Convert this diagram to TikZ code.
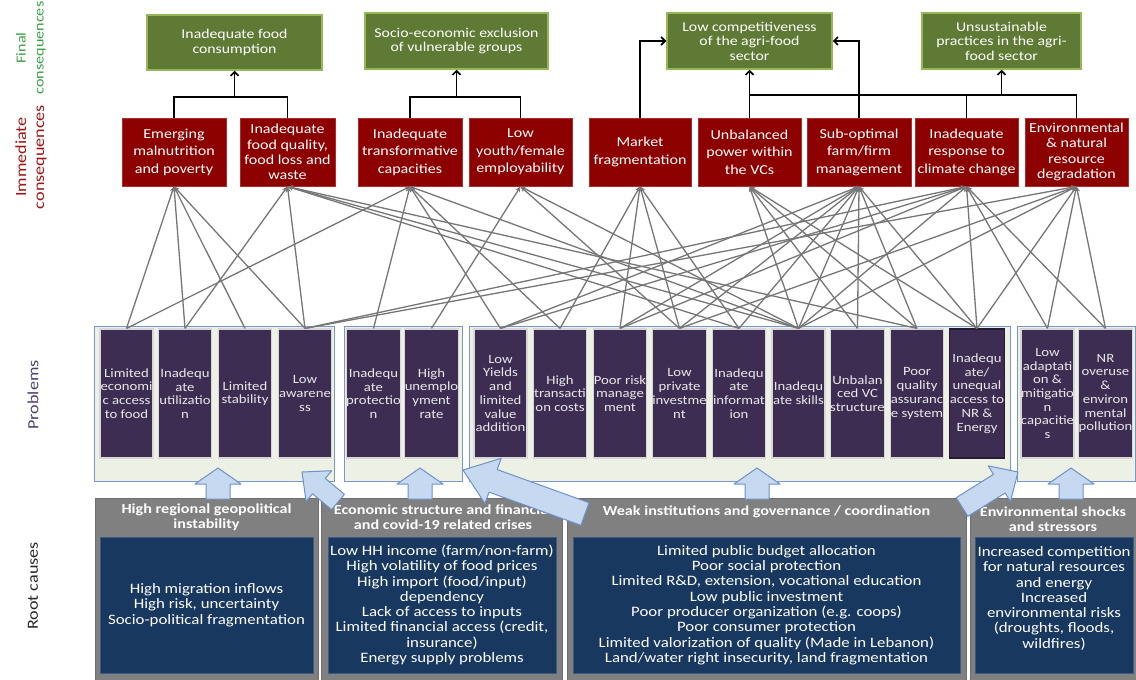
\documentclass[tikz,border=0pt]{standalone}
\usepackage{fontspec}
\setmainfont{Carlito}[FakeStretch=1.17]
\usetikzlibrary{arrows.meta,calc}
\definecolor{gfill}{RGB}{94,122,52}
\definecolor{gbord}{RGB}{150,182,88}
\definecolor{rfill}{RGB}{140,0,0}
\definecolor{rbord}{RGB}{175,45,45}
\definecolor{pfill}{RGB}{62,45,82}
\definecolor{pbord}{RGB}{215,215,215}
\definecolor{ptext}{RGB}{232,232,232}
\definecolor{frfill}{RGB}{236,240,229}
\definecolor{frbord}{RGB}{120,150,200}
\definecolor{rtgray}{RGB}{128,128,128}
\definecolor{rtbord}{RGB}{110,110,110}
\definecolor{navy}{RGB}{24,56,96}
\definecolor{navybord}{RGB}{60,90,130}
\definecolor{afill}{RGB}{198,217,241}
\definecolor{abord}{RGB}{110,145,200}
\definecolor{linkgray}{RGB}{118,118,118}
\definecolor{lgreen}{RGB}{60,160,70}
\definecolor{lred}{RGB}{160,20,20}
\definecolor{lpurp}{RGB}{80,65,110}
\definecolor{lgray}{RGB}{40,40,40}
\newcommand\myfatarrow[5]{%
  \coordinate (fa-t) at #1;
  \coordinate (fa-h) at #2;
  \coordinate (fa-b) at ($(fa-h)!#5!(fa-t)$);
  \draw[fatarr] ($(fa-t)!#3!90:(fa-h)$) -- ($(fa-b)!#3!90:(fa-h)$) -- ($(fa-b)!#4!90:(fa-h)$) -- (fa-h) -- ($(fa-b)!#4!-90:(fa-h)$) -- ($(fa-b)!#3!-90:(fa-h)$) -- ($(fa-t)!#3!-90:(fa-h)$) -- cycle;
}
\begin{document}
\begin{tikzpicture}[x=1pt,y=-1pt,
  sidelab/.style={rotate=90, align=center, inner sep=0pt, font=\fontsize{15.5}{18}\selectfont},
  greenbox/.style={draw=gbord, fill=gfill, line width=1.5pt, text=white, align=center, inner sep=0pt, font=\fontsize{13.5}{14.5}\selectfont},
  redbox/.style={draw=rbord, fill=rfill, line width=1pt, text=white, align=center, inner sep=0pt, minimum height=68pt, font=\fontsize{13.7}{17.5}\selectfont},
  redfour/.style={font=\fontsize{13.7}{15.3}\selectfont},
  probframe/.style={draw=frbord, fill=frfill, line width=1pt, inner sep=0pt},
  probbox/.style={draw=pbord, fill=pfill, line width=1.2pt, text=ptext, align=center, inner sep=0pt, minimum width=53pt, minimum height=129pt, font=\fontsize{12.6}{13.7}\selectfont},
  rootbox/.style={draw=rtbord, fill=rtgray, line width=0.8pt, inner sep=0pt},
  roothead/.style={text=white, align=center, inner sep=0pt, font=\bfseries\fontsize{13.8}{15}\selectfont},
  rootinner/.style={draw=navybord, fill=navy, line width=0.8pt, text=white, align=center, inner sep=0pt, minimum height=136pt, font=\fontsize{14.4}{15.3}\selectfont},
  fatarr/.style={draw=abord, fill=afill, line width=1pt, line join=round},
  link/.style={draw=linkgray, line width=1.3pt, -{Stealth[length=5.5pt,width=5pt]}},
  blk/.style={draw=black, line width=1.6pt},
  blkarr/.style={draw=black, line width=1.6pt, -{Straight Barb[length=4pt,width=8pt]}}
]
\useasboundingbox (0,0) rectangle (1136,680);
\fill[white] (0,0) rectangle (1136,680);

% side labels
\node[sidelab, text=lgreen, font=\fontsize{13.8}{18}\selectfont] (lf) at (31,48) {Final\\consequences};
\node[sidelab, text=lred] (li) at (31,157) {Immediate\\consequences};
\node[sidelab, text=lpurp] (lp) at (33,395) {Problems};
\node[sidelab, text=lgray] (lr) at (33,586) {Root causes};

% final consequences
\node[greenbox, minimum width=175pt, minimum height=55pt] (f1) at (234.5,42.5) {Inadequate food\\consumption};
\node[greenbox, minimum width=183pt, minimum height=56pt] (f2) at (456.5,41) {Socio-economic exclusion\\of vulnerable groups};
\node[greenbox, minimum width=165pt, minimum height=56pt] (f3) at (749.5,41) {Low competitiveness\\of the agri-food\\sector};
\node[greenbox, minimum width=159pt, minimum height=56pt] (f4) at (1001.5,41) {Unsustainable\\practices in the agri-\\food sector};

% problem frames
\node[probframe, minimum width=240pt, minimum height=155pt] (g1) at (214,403.5) {};
\node[probframe, minimum width=118pt, minimum height=155pt] (g2) at (403,403.5) {};
\node[probframe, minimum width=541pt, minimum height=155pt] (g3) at (739.5,403.5) {};
\node[probframe, minimum width=118pt, minimum height=155pt] (g4) at (1076,403.5) {};

% problems
\node[probbox] (p1) at (126.5,393.5) {Limited\\economi\\c access\\to food};
\node[probbox] (p2) at (185,393.5) {Inadequ\\ate\\utilizatio\\n};
\node[probbox] (p3) at (245,393.5) {Limited\\stability};
\node[probbox] (p4) at (305,393.5) {Low\\awarene\\ss};
\node[probbox] (p5) at (373.5,393.5) {Inadequ\\ate\\protectio\\n};
\node[probbox] (p6) at (431.5,393.5) {High\\unemplo\\yment\\rate};
\node[probbox] (p7) at (500.5,393.5) {Low\\Yields\\and\\limited\\value\\addition};
\node[probbox] (p8) at (560,393.5) {High\\transacti\\on costs};
\node[probbox] (p9) at (620,393.5) {Poor risk\\manage\\ment};
\node[probbox] (p10) at (679.5,393.5) {Low\\private\\investme\\nt};
\node[probbox] (p11) at (739,393.5) {Inadequ\\ate\\informat\\ion};
\node[probbox] (p12) at (798.5,393.5) {Inadequ\\ate skills};
\node[probbox] (p13) at (857.5,393.5) {Unbalan\\ced VC\\structure};
\node[probbox] (p14) at (917,393.5) {Poor\\quality\\assuranc\\e system};
\node[probbox, draw=pfill!60!black] (p15) at (977,393.5) {Inadequ\\ate/\\unequal\\access to\\NR \&\\Energy};
\node[probbox] (p16) at (1047.5,393.5) {Low\\adaptati\\on \&\\mitigatio\\n\\capacitie\\s};
\node[probbox] (p17) at (1105.5,393.5) {NR\\overuse\\\&\\environ\\mental\\pollution};

% immediate consequences
\node[redbox, minimum width=104pt] (i1) at (174,152) {Emerging\\malnutrition\\and poverty};
\node[redbox, redfour, minimum width=95pt] (i2) at (287.5,152) {Inadequate\\food quality,\\food loss and\\waste};
\node[redbox, minimum width=104pt] (i3) at (410,152) {Inadequate\\transformative\\capacities};
\node[redbox, minimum width=103pt] (i4) at (520.5,152) {Low\\youth/female\\employability};
\node[redbox, minimum width=102pt] (i5) at (640,152) {Market\\fragmentation};
\node[redbox, minimum width=103pt] (i6) at (749.5,152) {Unbalanced\\power within\\the VCs};
\node[redbox, minimum width=104pt] (i7) at (859,152) {Sub-optimal\\farm/firm\\management};
\node[redbox, minimum width=103pt] (i8) at (966.5,152) {Inadequate\\response to\\climate change};
\node[redbox, redfour, minimum width=103pt] (i9) at (1076.5,152) {Environmental\\\& natural\\resource\\degradation};

% links problems -> immediate consequences
\foreach \i/\p in {1/1,1/2,1/3,1/4,
  2/2,2/4,2/11,2/12,2/14,
  3/1,3/5,3/7,3/8,3/12,
  4/6,4/10,4/12,
  5/8,5/9,5/10,5/11,
  6/12,6/13,6/14,6/15,
  7/7,7/9,7/10,7/11,7/12,7/13,7/14,7/15,
  8/4,8/7,8/9,8/12,8/15,8/16,8/17,
  9/4,9/10,9/12,9/15,9/16,9/17}
  \draw[link] (p\p.north) -- (i\i.south);

% immediate -> final
\coordinate (b1) at (234.5,97);
\coordinate (b2) at (456.5,97);
\coordinate (b3) at (749.5,95);
\coordinate (b4) at (1001.5,95);
\draw[blk] (i1.north) |- (b1) -| (i2.north);
\draw[blkarr] (b1) -- (f1.south);
\draw[blk] (i3.north) |- (b2) -| (i4.north);
\draw[blkarr] (b2) -- (f2.south);
\draw[blkarr] (i5.north) |- (f3.west);
\draw[blkarr] (i7.north) |- (f3.east);
\draw[blk] (i6.north) -- (b3) -- (b4) -| (i9.north);
\draw[blk] (i8.north) -- (i8.north |- b4);
\draw[blkarr] (b3) -- (f3.south);
\draw[blkarr] (b4) -- (f4.south);

% root causes
\node[rootbox, minimum width=223pt, minimum height=182pt] (r1) at (206.5,589) {};
\node[rootbox, minimum width=241pt, minimum height=182pt] (r2) at (441.5,589) {};
\node[rootbox, minimum width=399pt, minimum height=182pt] (r3) at (766.5,589) {};
\node[rootbox, minimum width=166pt, minimum height=182pt] (r4) at (1053,589) {};
\node[roothead] (h1) at (206.5,517.5) {High regional geopolitical\\instability};
\node[roothead] (h2) at (443,517.5) {Economic structure and financial\\and covid-19 related crises};
\node[roothead] (h3) at (766.5,512) {Weak institutions and governance / coordination};
\node[roothead] (h4) at (1053,519) {Environmental shocks\\and stressors};
\node[rootinner, minimum width=213pt] (c1) at (206.5,605) {High migration inflows\\High risk, uncertainty\\Socio-political fragmentation};
\node[rootinner, minimum width=228pt] (c2) at (442,605) {Low HH income (farm/non-farm)\\High volatility of food prices\\High import (food/input)\\dependency\\Lack of access to inputs\\Limited financial access (credit,\\insurance)\\Energy supply problems};
\node[rootinner, minimum width=387pt] (c3) at (766.5,605) {Limited public budget allocation\\Poor social protection\\Limited R\&D, extension, vocational education\\Low public investment\\Poor producer organization (e.g. coops)\\Poor consumer protection\\Limited valorization of quality (Made in Lebanon)\\Land/water right insecurity, land fragmentation};
\node[rootinner, minimum width=158pt] (c4) at (1054,605) {Increased competition\\for natural resources\\and energy\\Increased\\environmental risks\\(droughts, floods,\\wildfires)\\\phantom{x}};

% fat arrows root causes -> problems
\myfatarrow{(218,499)}{(218,468)}{12pt}{23pt}{16pt}
\myfatarrow{(338,502)}{(302,472)}{10pt}{20pt}{22pt}
\myfatarrow{(420,499)}{(420,468)}{12pt}{23pt}{16pt}
\myfatarrow{(585,514)}{(463,470)}{12pt}{24pt}{32pt}
\myfatarrow{(757,499)}{(757,468)}{12pt}{23pt}{16pt}
\myfatarrow{(962,507)}{(1018,472)}{11pt}{21pt}{22pt}
\myfatarrow{(1071,499)}{(1071,468)}{12pt}{23pt}{16pt}
\end{tikzpicture}
\end{document}
